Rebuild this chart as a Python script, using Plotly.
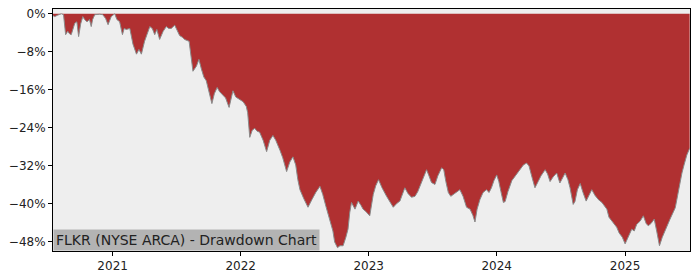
import plotly.graph_objects as go

dates = [
    "2020-07-15", "2020-07-20", "2020-07-28", "2020-08-08", "2020-08-14", "2020-08-20", "2020-08-26", "2020-08-31",
    "2020-09-05", "2020-09-15", "2020-09-21", "2020-09-26", "2020-10-02", "2020-10-08", "2020-10-13", "2020-10-20",
    "2020-10-27", "2020-11-01", "2020-11-05", "2020-11-11", "2020-11-25", "2020-12-04", "2020-12-12", "2020-12-19",
    "2020-12-28", "2021-01-07", "2021-01-13", "2021-01-21", "2021-01-29", "2021-02-03", "2021-02-09", "2021-02-19",
    "2021-02-28", "2021-03-10", "2021-03-17", "2021-03-24", "2021-04-02", "2021-04-09", "2021-04-17", "2021-04-24",
    "2021-05-01", "2021-05-07", "2021-05-15", "2021-05-25", "2021-06-03", "2021-06-10", "2021-06-17", "2021-06-27",
    "2021-07-05", "2021-07-11", "2021-07-20", "2021-07-25", "2021-08-07", "2021-08-12", "2021-08-18", "2021-08-28",
    "2021-09-04", "2021-09-11", "2021-09-18", "2021-09-25", "2021-10-02", "2021-10-11", "2021-10-18", "2021-10-26",
    "2021-11-02", "2021-11-12", "2021-11-19", "2021-11-29", "2021-12-04", "2021-12-10", "2021-12-18", "2021-12-29",
    "2022-01-08", "2022-01-17", "2022-01-21", "2022-01-27", "2022-02-03", "2022-02-10", "2022-02-17", "2022-02-24",
    "2022-03-06", "2022-03-16", "2022-03-25", "2022-04-03", "2022-04-11", "2022-04-23", "2022-05-01", "2022-05-12",
    "2022-05-21", "2022-05-30", "2022-06-07", "2022-06-13", "2022-06-19", "2022-06-30", "2022-07-12", "2022-07-23",
    "2022-08-03", "2022-08-15", "2022-08-23", "2022-09-01", "2022-09-12", "2022-09-21", "2022-09-26", "2022-10-04",
    "2022-10-11", "2022-10-20", "2022-10-28", "2022-11-03", "2022-11-08", "2022-11-13", "2022-11-23", "2022-12-02",
    "2022-12-10", "2022-12-16", "2022-12-24", "2023-01-04", "2023-01-14", "2023-01-21", "2023-01-29", "2023-02-08",
    "2023-02-21", "2023-03-02", "2023-03-12", "2023-03-22", "2023-03-31", "2023-04-14", "2023-04-23", "2023-05-03",
    "2023-05-13", "2023-05-21", "2023-05-27", "2023-06-05", "2023-06-15", "2023-06-22", "2023-06-29", "2023-07-09",
    "2023-07-17", "2023-07-28", "2023-08-03", "2023-08-09", "2023-08-16", "2023-08-23", "2023-09-04", "2023-09-18",
    "2023-09-27", "2023-10-07", "2023-10-17", "2023-10-25", "2023-10-31", "2023-11-06", "2023-11-14", "2023-11-23",
    "2023-12-03", "2023-12-10", "2023-12-17", "2023-12-24", "2024-01-01", "2024-01-07", "2024-01-13", "2024-01-20",
    "2024-01-25", "2024-02-02", "2024-02-13", "2024-02-19", "2024-02-27", "2024-03-07", "2024-03-17", "2024-03-26",
    "2024-04-02", "2024-04-11", "2024-04-19", "2024-04-28", "2024-05-06", "2024-05-18", "2024-05-25", "2024-06-01",
    "2024-06-10", "2024-06-20", "2024-06-29", "2024-07-07", "2024-07-14", "2024-07-22", "2024-07-28", "2024-08-06",
    "2024-08-11", "2024-08-18", "2024-08-26", "2024-09-03", "2024-09-12", "2024-09-20", "2024-09-28", "2024-10-07",
    "2024-10-17", "2024-10-27", "2024-11-10", "2024-11-16", "2024-11-24", "2024-12-01", "2024-12-08", "2024-12-15",
    "2024-12-24", "2025-01-01", "2025-01-10", "2025-01-20", "2025-01-27", "2025-02-03", "2025-02-13", "2025-02-22",
    "2025-03-02", "2025-03-08", "2025-03-16", "2025-03-25", "2025-04-01", "2025-04-09", "2025-04-17", "2025-04-30",
    "2025-05-09", "2025-05-24", "2025-06-01", "2025-06-12", "2025-06-18", "2025-06-26", "2025-07-04",
]

drawdown = [
    -0.4, -0.6, -0.3, 0.0, -0.2, -4.4, -3.7, -4.2,
    -4.4, -2.0, -1.7, -4.8, -2.1, -0.6, -1.2, -1.7,
    -1.2, -2.7, -1.2, -0.2, -0.1, -0.2, -1.0, -2.3,
    -0.6, 0.0, -1.2, -1.7, -4.4, -3.1, -3.3, -3.1,
    -6.4, -8.5, -7.5, -8.5, -5.8, -4.4, -2.7, -3.1,
    -4.4, -3.3, -5.4, -3.7, -2.7, -3.1, -3.1, -2.4,
    -3.7, -4.6, -5.0, -5.4, -5.8, -8.9, -12.1, -11.0,
    -9.6, -11.6, -13.3, -14.1, -16.2, -18.9, -16.8, -15.5,
    -16.4, -17.2, -17.7, -19.7, -17.9, -16.2, -17.5, -18.1,
    -18.5, -19.5, -20.8, -26.0, -24.5, -24.1, -24.7, -24.9,
    -26.6, -29.0, -26.6, -25.6, -26.6, -28.7, -30.3, -33.2,
    -31.2, -30.1, -31.8, -34.9, -37.0, -38.9, -40.7, -39.1,
    -37.6, -36.3, -38.0, -40.5, -43.2, -45.7, -48.0, -49.2,
    -48.8, -48.8, -47.0, -45.3, -41.8, -39.7, -41.1, -39.4,
    -40.3, -41.1, -41.6, -42.5, -38.0, -36.2, -34.9, -36.6,
    -38.4, -39.5, -40.7, -39.9, -39.4, -36.6, -37.8, -38.6,
    -38.4, -37.4, -36.3, -34.5, -32.8, -34.1, -35.5, -35.9,
    -34.1, -32.4, -32.8, -35.3, -37.6, -38.4, -37.8, -37.0,
    -38.4, -40.7, -41.1, -42.4, -43.8, -41.1, -39.1, -37.6,
    -37.0, -37.6, -36.6, -35.1, -33.9, -35.3, -37.4, -39.7,
    -39.5, -37.4, -35.1, -34.5, -33.9, -32.8, -31.8, -31.4,
    -32.0, -34.5, -36.6, -35.3, -34.1, -32.8, -33.7, -35.3,
    -34.3, -33.5, -35.6, -34.5, -33.5, -34.9, -36.6, -40.1,
    -39.5, -37.0, -35.7, -37.6, -39.4, -38.2, -37.0, -38.2,
    -39.1, -39.7, -41.1, -42.8, -43.6, -44.1, -44.9, -46.1,
    -47.0, -48.4, -47.0, -45.3, -45.7, -44.3, -43.6, -42.5,
    -44.1, -44.6, -44.1, -43.2, -45.7, -48.8, -47.0, -44.6,
    -43.2, -40.8, -37.4, -33.5, -31.8, -29.7, -28.3,
]

zero_line = [0.0 for _ in dates]

y_ticks = [0, -8, -16, -24, -32, -40, -48]
y_tick_labels = ["0%", "\u22128%", "\u221216%", "\u221224%", "\u221232%", "\u221240%", "\u221248%"]
x_ticks = ["2021-01-01", "2022-01-01", "2023-01-01", "2024-01-01", "2025-01-01"]
x_tick_labels = ["2021", "2022", "2023", "2024", "2025"]

title_text = "FLKR (NYSE ARCA) - Drawdown Chart"

fig = go.Figure()
fig.add_trace(go.Scatter(x=dates, y=zero_line, mode="lines",
                         line=dict(width=0, color="rgba(0,0,0,0)"),
                         hoverinfo="skip", showlegend=False))
fig.add_trace(go.Scatter(x=dates, y=drawdown, mode="lines",
                         line=dict(width=1, color="#8a8a8a"),
                         fill="tonexty", fillcolor="#b03031",
                         showlegend=False))

fig.update_layout(
    width=700, height=280,
    margin=dict(l=53, r=10, t=7, b=28),
    paper_bgcolor="white",
    plot_bgcolor="#eeeeee",
    font=dict(family="DejaVu Sans", size=12, color="#222222"),
    showlegend=False,
)
fig.update_xaxes(
    type="date",
    range=["2020-07-15", "2025-07-05"],
    tickvals=x_ticks, ticktext=x_tick_labels,
    showgrid=False, zeroline=False,
    showline=True, linecolor="black", linewidth=1, mirror=True,
    ticks="outside", ticklen=4, tickcolor="black",
)
fig.update_yaxes(
    range=[-49.9, 1.0],
    tickvals=y_ticks, ticktext=y_tick_labels,
    showgrid=False, zeroline=False,
    showline=True, linecolor="black", linewidth=1, mirror=True,
    ticks="outside", ticklen=4, tickcolor="black",
)
fig.add_annotation(
    text=title_text, xref="paper", yref="paper", x=0, y=0,
    xanchor="left", yanchor="bottom", showarrow=False,
    font=dict(family="DejaVu Sans", size=14, color="#222222"),
    bgcolor="#b3b3b3", borderpad=2,
)

fig.write_html("out.html")
